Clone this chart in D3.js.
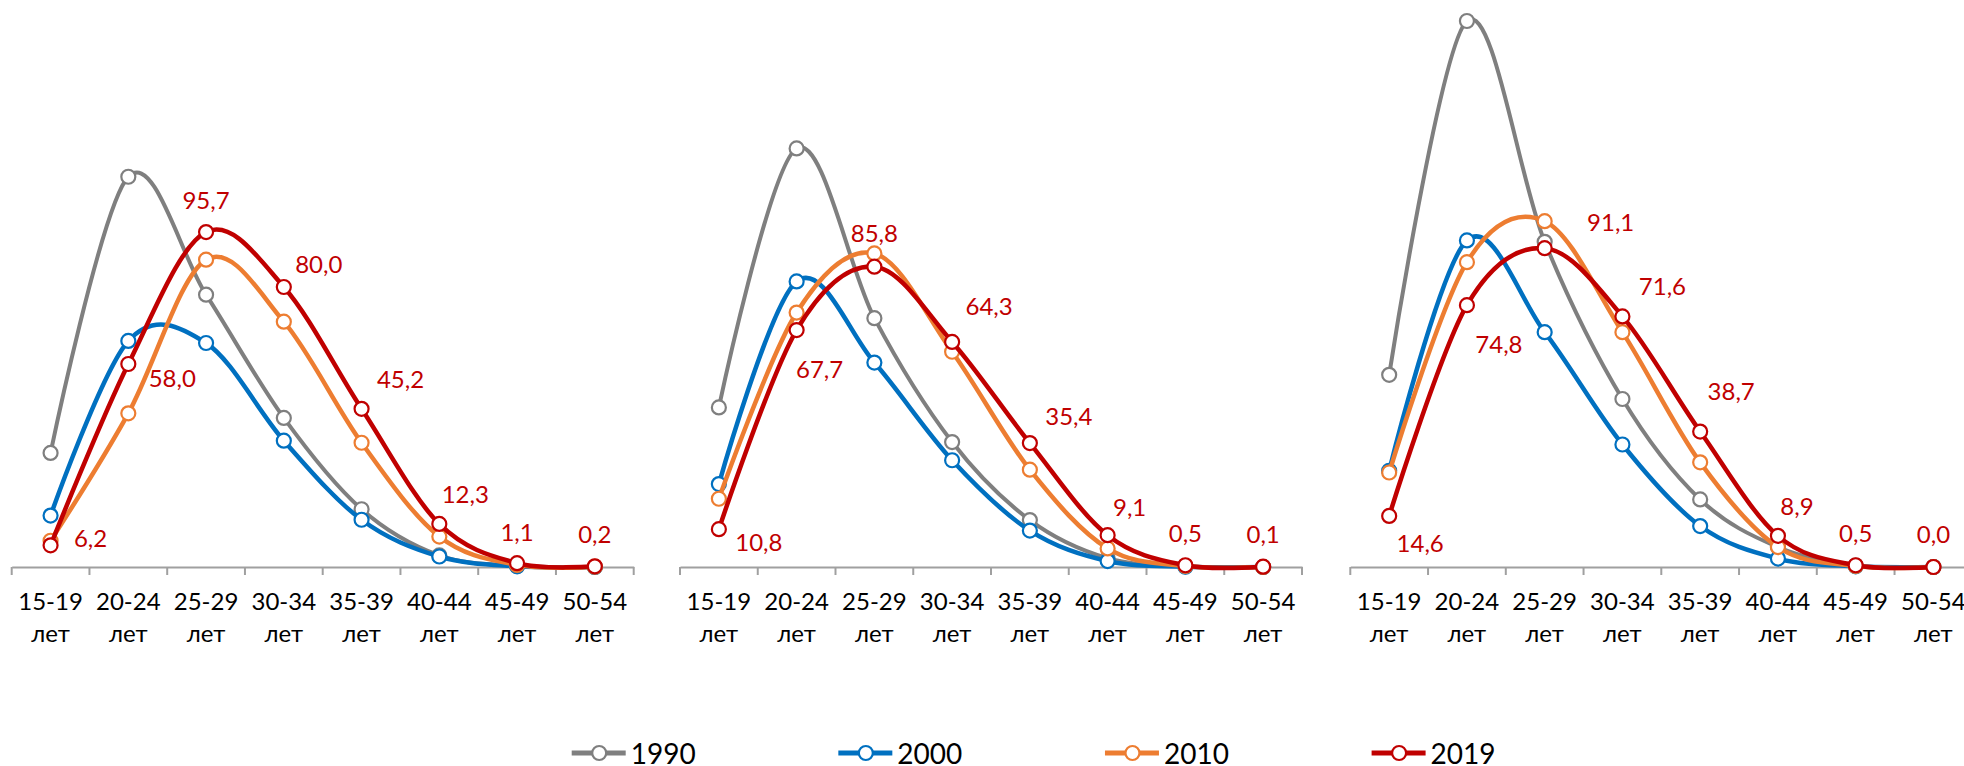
<!DOCTYPE html>
<html>
<head>
<meta charset="utf-8">
<script src="https://cdn.jsdelivr.net/npm/d3@7"></script>
<style>
  body { margin: 0; background: #fff; }
  svg { display: block; font-family: Lato, 'Open Sans', sans-serif; }
</style>
</head>
<body>
<svg id="chart" width="1964" height="766"></svg>
<script>
const categories = ['15-19', '20-24', '25-29', '30-34', '35-39', '40-44', '45-49', '50-54'];
const catSuffix = 'лет';
const years = ['1990', '2000', '2010', '2019'];

// panel 1
const p1_1990 = [32.6, 111.5, 77.8, 42.6, 16.5, 3.3, 0.3, 0.0];
const p1_2000 = [14.7, 64.6, 64.0, 36.1, 13.5, 3.0, 0.2, 0.0];
const p1_2010 = [7.5, 43.9, 87.8, 70.1, 35.5, 8.7, 0.6, 0.1];
const p1_2019 = [6.2, 58.0, 95.7, 80.0, 45.2, 12.3, 1.1, 0.2];
// panel 2
const p2_1990 = [45.6, 119.6, 71.1, 35.7, 13.4, 2.5, 0.2, 0.0];
const p2_2000 = [23.7, 81.6, 58.4, 30.5, 10.4, 1.7, 0.1, 0.0];
const p2_2010 = [19.5, 72.7, 89.6, 61.5, 27.8, 5.3, 0.3, 0.0];
const p2_2019 = [10.8, 67.7, 85.8, 64.3, 35.4, 9.1, 0.5, 0.1];
// panel 3
const p3_1990 = [54.9, 156.0, 92.9, 48.0, 19.3, 5.7, 0.4, 0.0];
const p3_2000 = [27.5, 93.3, 67.1, 35.0, 11.7, 2.4, 0.2, 0.0];
const p3_2010 = [27.0, 87.1, 98.8, 67.1, 29.9, 5.7, 0.3, 0.0];
const p3_2019 = [14.6, 74.8, 91.1, 71.6, 38.7, 8.9, 0.5, 0.0];

const colors = { '1990': '#7f7f7f', '2000': '#0070c0', '2010': '#ed7d31', '2019': '#c00000' };
const widths = { '1990': 4, '2000': 4.5, '2010': 4.5, '2019': 4.5 };

// label placement for the 2019 series (dx, dy from the point)
const labelOffsets = [
  [[40, -8], [44, 13], [0, -33], [35, -24], [39, -30], [26, -30], [0, -32], [0, -33]],
  [[40, 12], [23, 38], [0, -34], [37, -36], [39, -28], [22, -29], [0, -33], [0, -33]],
  [[31, 27], [32, 38], [66, -27], [40, -31], [31, -41], [19, -30], [0, -33], [0, -34]]
];

const panels = [
  { left: 11.7, series: [p1_1990, p1_2000, p1_2010, p1_2019] },
  { left: 680, series: [p2_1990, p2_2000, p2_2010, p2_2019] },
  { left: 1350.3, series: [p3_1990, p3_2000, p3_2010, p3_2019] }
];

const plotWidth = 622, axisY = 567;
const svg = d3.select('#chart');
const fmt = v => v.toFixed(1).replace('.', ',');

const y = d3.scaleLinear().domain([0, 160]).range([axisY, 7]);

panels.forEach((p, pi) => {
  const x = d3.scaleBand().domain(categories).range([p.left, p.left + plotWidth]);
  const cx = c => x(c) + x.bandwidth() / 2;

  const g = svg.append('g');

  // axis
  const xAxis = d3.axisBottom(x).tickSize(0).tickFormat('');
  const ax = g.append('g').attr('transform', 'translate(0,' + axisY + ')').call(xAxis);
  ax.select('.domain').attr('stroke', '#a0a0a0').attr('stroke-width', 2);
  const bounds = categories.map(c => x(c)).concat([p.left + plotWidth]);
  ax.selectAll('.bnd').data(bounds).enter().append('line')
    .attr('x1', d => d).attr('x2', d => d)
    .attr('y1', 0).attr('y2', 8)
    .attr('stroke', '#a0a0a0').attr('stroke-width', 2);

  const lbl = g.selectAll('.cat').data(categories).enter().append('text')
    .attr('text-anchor', 'middle')
    .attr('font-size', 24)
    .attr('fill', '#000');
  lbl.append('tspan').attr('x', d => cx(d)).attr('y', 610).text(d => d);
  lbl.append('tspan').attr('x', d => cx(d)).attr('y', 642).text(catSuffix);

  const line = d3.line()
    .x((d, i) => cx(categories[i]))
    .y(d => y(d))
    .curve(d3.curveCardinal.tension(0));

  p.series.forEach((vals, si) => {
    const yr = years[si];
    g.append('path')
      .datum(vals)
      .attr('d', line)
      .attr('fill', 'none')
      .attr('stroke', colors[yr])
      .attr('stroke-width', widths[yr])
      .attr('stroke-linejoin', 'round');
    g.selectAll('.m' + yr).data(vals).enter().append('circle')
      .attr('cx', (d, i) => cx(categories[i]))
      .attr('cy', d => y(d))
      .attr('r', 7)
      .attr('fill', '#fff')
      .attr('stroke', colors[yr])
      .attr('stroke-width', 2.2);
  });

  // data labels for 2019
  const last = p.series[3];
  g.selectAll('.dl').data(last).enter().append('text')
    .attr('x', (d, i) => cx(categories[i]) + labelOffsets[pi][i][0])
    .attr('y', (d, i) => y(d) + labelOffsets[pi][i][1])
    .attr('text-anchor', 'middle')
    .attr('dominant-baseline', 'central')
    .attr('font-size', 24)
    .attr('fill', colors['2019'])
    .text(d => fmt(d));
});

// legend
const legendX = d3.scalePoint().domain(years).range([571.7, 1371.6]);
const leg = svg.append('g').selectAll('g').data(years).enter().append('g')
  .attr('transform', d => 'translate(' + legendX(d) + ',753)');
leg.append('line').attr('x1', 0).attr('x2', 54).attr('y1', 0).attr('y2', 0)
  .attr('stroke', d => colors[d]).attr('stroke-width', 5);
leg.append('circle').attr('cx', 27.5).attr('cy', 0).attr('r', 7)
  .attr('fill', '#fff').attr('stroke', d => colors[d]).attr('stroke-width', 2.2);
leg.append('text').attr('x', 59).attr('y', 0)
  .attr('dominant-baseline', 'central')
  .attr('font-size', 28).attr('fill', '#000')
  .text(d => d);
</script>
</body>
</html>
